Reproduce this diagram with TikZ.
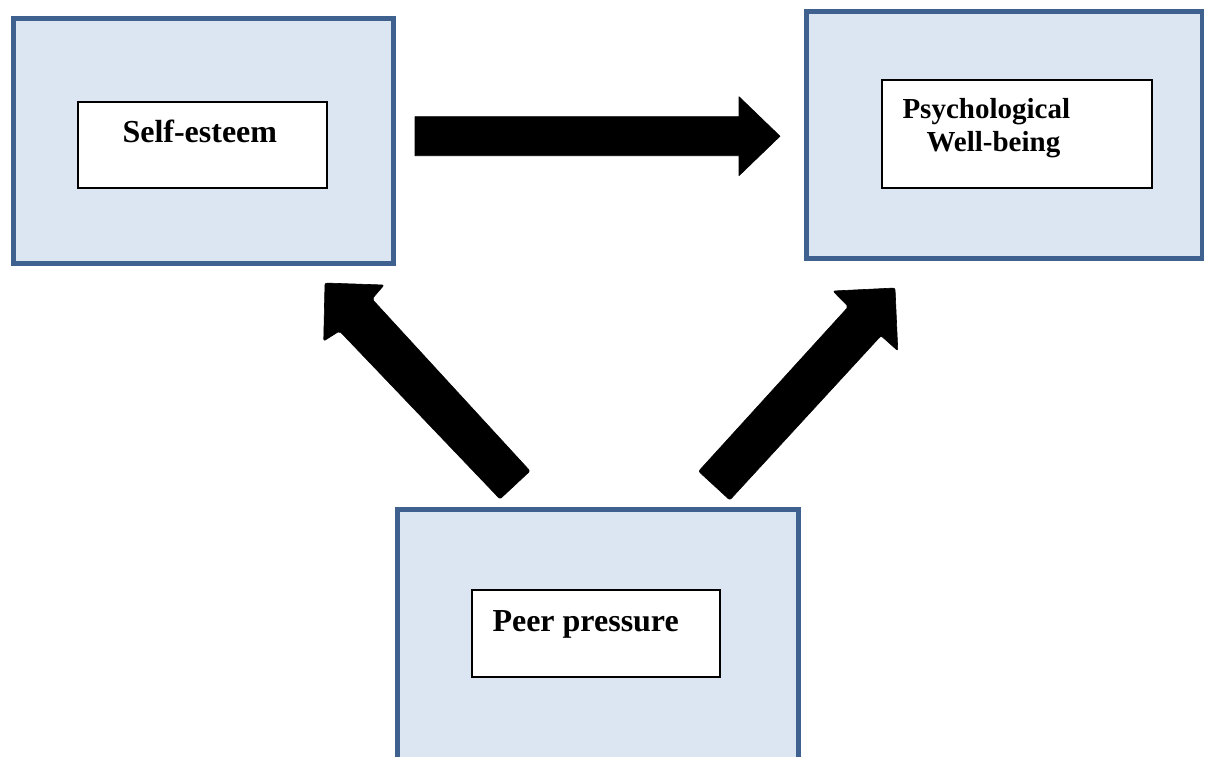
\documentclass[tikz,border=0pt]{standalone}
\usepackage{fontspec}
\setmainfont{Liberation Serif}
\definecolor{boxfill}{HTML}{DCE6F2}
\definecolor{boxline}{HTML}{3E6190}
\begin{document}
\begin{tikzpicture}[x=0.5pt,y=-0.5pt,
  outerbox/.style={draw=boxline,fill=boxfill,line width=2.4pt,rectangle,anchor=north west,inner sep=0pt,outer sep=0pt},
  innerbox/.style={draw=black,fill=white,line width=0.6pt,rectangle,anchor=north west,inner sep=0pt,outer sep=0pt},
  label/.style={anchor=base west,inner sep=0pt,outer sep=0pt,font=\fontsize{16pt}{19pt}\selectfont\bfseries},
  blockarrow/.style={fill=black,draw=black,line width=0.3pt,line join=round}]
\useasboundingbox (0,0) rectangle (1206,756);
\clip (0,0) rectangle (1206,756);
% outer boxes
\node[outerbox,minimum width=190pt,minimum height=122.5pt] (seOuter) at (13.5,18.5) {};
\node[outerbox,minimum width=197.75pt,minimum height=123.5pt] (pwOuter) at (806.5,11.5) {};
\node[outerbox,minimum width=200.5pt,minimum height=135.25pt] (ppOuter) at (397.5,509.5) {};
% inner boxes
\node[innerbox,minimum width=124.5pt,minimum height=43pt] (seInner) at (78,102) {};
\node[innerbox,minimum width=135pt,minimum height=54pt] (pwInner) at (882,80) {};
\node[innerbox,minimum width=124pt,minimum height=43.5pt] (ppInner) at (472,590) {};
% labels
\node[label] (seText) at (122.5,142.7) {Self-esteem};
\node[label,font=\fontsize{14.5pt}{17pt}\selectfont\bfseries] (pwText1) at (902.5,118.3) {Psychological};
\node[label,font=\fontsize{14.5pt}{17pt}\selectfont\bfseries] (pwText2) at (926.5,151.7) {Well-being};
\node[label] (ppText) at (492.5,631) {Peer pressure};
% horizontal block arrow: self-esteem -> well-being
\fill[blockarrow] (415,116.7) -- (739,116.7) -- (739,96.7) -- (780,136.2) -- (739,175.7) -- (739,155.7) -- (415,155.7) -- cycle;
% diagonal block arrow: peer pressure -> self-esteem
\fill[blockarrow,rounded corners=1pt] (530,471) -- (372,299) -- (384,285) -- (325,283) -- (323.7,341) -- (339.5,331) -- (500,499) -- cycle;
% diagonal block arrow: peer pressure -> well-being
\fill[blockarrow,rounded corners=1pt] (698.6,471.3) -- (848.4,306.7) -- (833,291) -- (895,288) -- (897.8,350.7) -- (881,335.7) -- (729.8,500) -- cycle;
\end{tikzpicture}
\end{document}
